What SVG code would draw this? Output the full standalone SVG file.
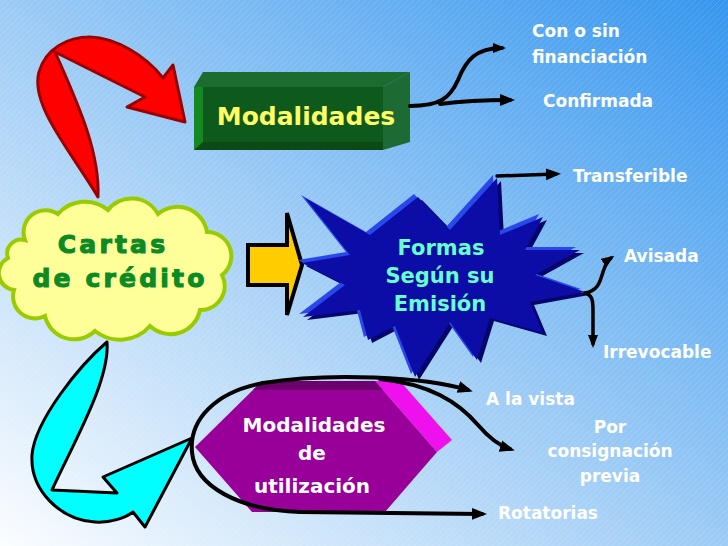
<svg xmlns="http://www.w3.org/2000/svg" width="728" height="546" viewBox="0 0 728 546">
<defs>
<linearGradient id="bg" x1="0" y1="1" x2="1" y2="0">
<stop offset="0" stop-color="#fbfdff"/>
<stop offset="0.45" stop-color="#a6d0f6"/>
<stop offset="1" stop-color="#3596ee"/>
</linearGradient>
<pattern id="hatch" patternUnits="userSpaceOnUse" width="6" height="6">
<path d="M0,6 L6,0" stroke="#ffffff" stroke-opacity="0.13" stroke-width="1"/>
</pattern>
<marker id="ah" markerUnits="userSpaceOnUse" markerWidth="16" markerHeight="14" refX="10" refY="7" orient="auto">
<path d="M0,1 L15,7 L0,13 Z" fill="#000"/>
</marker>
<marker id="ahs" markerUnits="userSpaceOnUse" markerWidth="14" markerHeight="12" refX="9" refY="6" orient="auto">
<path d="M0,1 L13,6 L0,11 Z" fill="#000"/>
</marker>
<polygon id="starShape" points="305,198 370,235 418,197 450,230 497,178 500,235 543,217 525,250 580,250 535,275 585,292 530,302 543,333 490,318 477,360 450,322 415,377 395,326 368,340 360,310 303,317 345,285 302,263 350,255"/>
</defs>
<style>
.lbl{font-family:"DejaVu Sans","Liberation Sans",sans-serif;font-weight:bold;font-size:17px;fill:#ffffff}
.conn{fill:none;stroke:#000;stroke-width:4;stroke-linecap:round}
.cart{font-family:"DejaVu Sans","Liberation Sans",sans-serif;font-weight:bold;font-size:25px;letter-spacing:3.2px;fill:#0c8a24;stroke:#0c8a24;stroke-width:1.1}
</style>
<rect width="728" height="546" fill="url(#bg)"/>
<rect width="728" height="546" fill="url(#hatch)"/>

<g id="red-arrow">
<path d="M98,197 C70,150 30,105 39,72 C46,48 68,37 90,37 C116,38 145,55 163,78 L173,65 L185,122 L127,107 L145,97 L55,52 C76,100 100,150 98,197 Z" fill="#ff0000" stroke="#990000" stroke-width="3" stroke-linejoin="round"/>
</g>

<g id="cyan-arrow">
<path d="M107,342 C80,365 35,420 32,455 C30,490 60,520 95,522 C110,523 125,518 133,512 L145,527 L192,438 L103,477 L117,493 L52,490 C75,440 110,380 107,342 Z" fill="#00ffff" stroke="#000" stroke-width="3" stroke-linejoin="round"/>
</g>

<g id="modalidades">
<polygon points="194,87 203,72 410,72 383,87" fill="#1c6b2f"/>
<polygon points="383,87 410,72 410,142 383,150" fill="#1e6a34"/>
<rect x="194" y="87" width="189" height="63" fill="#0b4a14"/>
<polygon points="194,87 203,87 203,142 194,150" fill="#13891f"/>
<rect x="203" y="87" width="180" height="55" fill="#0e5a1c"/>
<text x="306" y="125" text-anchor="middle" font-family="DejaVu Sans, Liberation Sans, sans-serif" font-weight="bold" font-size="25" fill="#ffff66">Modalidades</text>
</g>

<g id="cartas">
<path d="M25,240 A22,22 0 0 1 58,214 A36,36 0 0 1 108,210 A30,30 0 0 1 158,214 A30,30 0 0 1 207,232 A24,24 0 0 1 222,275 A24,24 0 0 1 200,310 A30,30 0 0 1 150,326 A40,40 0 0 1 95,331 A30,30 0 0 1 45,316 A22,22 0 0 1 14,290 A17,17 0 0 1 8,258 A14,14 0 0 1 25,240 Z" fill="#ffff99" stroke="#99cc00" stroke-width="4"/>
<text class="cart" x="113" y="253" text-anchor="middle">Cartas</text>
<text class="cart" x="120" y="287" text-anchor="middle">de crédito</text>
</g>

<g id="yellow-arrow">
<path d="M248,245 L287,245 L287,213 L302,265 L287,315 L287,285 L248,285 Z" fill="#ffcc00" stroke="#000" stroke-width="4" stroke-linejoin="miter"/>
</g>

<g id="formas">
<use href="#starShape" transform="translate(4,3)" fill="#06066a"/>
<use href="#starShape" transform="translate(-4,-3)" fill="#2a48ea"/>
<use href="#starShape" fill="#0c0ca6"/>
<text x="441" y="255" text-anchor="middle" font-family="DejaVu Sans, Liberation Sans, sans-serif" font-weight="bold" font-size="21" fill="#66ffcc">Formas</text>
<text x="440" y="283" text-anchor="middle" font-family="DejaVu Sans, Liberation Sans, sans-serif" font-weight="bold" font-size="21" fill="#66ffcc">Según su</text>
<text x="440" y="311" text-anchor="middle" font-family="DejaVu Sans, Liberation Sans, sans-serif" font-weight="bold" font-size="21" fill="#66ffcc">Emisión</text>
</g>

<g id="modalidades-utilizacion">
<polygon points="375,381 400,381 452,440 437,452" fill="#ee11ee"/>
<polygon points="195,447 262,381 375,381 437,452 385,512 252,512" fill="#990099"/>
<polygon points="262,381 375,381 383,390 253,390" fill="#6e006e"/>
<text x="314" y="432" text-anchor="middle" font-family="DejaVu Sans, Liberation Sans, sans-serif" font-weight="bold" font-size="20" fill="#ffffff">Modalidades</text>
<text x="312" y="460" text-anchor="middle" font-family="DejaVu Sans, Liberation Sans, sans-serif" font-weight="bold" font-size="20" fill="#ffffff">de</text>
<text x="312" y="493" text-anchor="middle" font-family="DejaVu Sans, Liberation Sans, sans-serif" font-weight="bold" font-size="20" fill="#ffffff">utilización</text>
</g>

<g id="connectors">
<path class="conn" d="M410,106 C440,106 450,98 458,80 C466,60 476,48 502,48" marker-end="url(#ahs)"/>
<path class="conn" d="M440,104 C470,100 490,100 510,100" marker-end="url(#ah)"/>
<path class="conn" style="stroke-width:3.5" d="M497,176 L556,174" marker-end="url(#ah)"/>
<path class="conn" style="stroke-width:3.5" d="M585,293 C598,291 600,282 603,272 C606,263 608,260 611,258" marker-end="url(#ahs)"/>
<path class="conn" style="stroke-width:3.5" d="M585,293 C592,295 593,300 593,310 L593,344" marker-end="url(#ahs)"/>
<path class="conn" d="M300,512 C240,510 195,487 192,452 C189,420 215,392 263,383 C330,372 425,377 468,390" marker-end="url(#ah)"/>
<path class="conn" d="M300,512 L482,514" marker-end="url(#ah)"/>
<path class="conn" d="M380,379 C430,384 458,402 478,425 C490,439 500,446 510,449" marker-end="url(#ah)"/>
</g>

<g id="label-con-o-sin"><text class="lbl" x="532" y="37">Con o sin</text><text class="lbl" x="532" y="63">financiación</text></g>
<g id="label-confirmada"><text class="lbl" x="543" y="107">Confirmada</text></g>
<g id="label-transferible"><text class="lbl" x="573" y="182">Transferible</text></g>
<g id="label-avisada"><text class="lbl" x="624" y="262">Avisada</text></g>
<g id="label-irrevocable"><text class="lbl" x="603" y="358">Irrevocable</text></g>
<g id="label-a-la-vista"><text class="lbl" x="486" y="405">A la vista</text></g>
<g id="label-por-consignacion"><text class="lbl" x="610" y="433" text-anchor="middle">Por</text><text class="lbl" x="610" y="457" text-anchor="middle">consignación</text><text class="lbl" x="610" y="482" text-anchor="middle">previa</text></g>
<g id="label-rotatorias"><text class="lbl" x="498" y="519">Rotatorias</text></g>
</svg>
